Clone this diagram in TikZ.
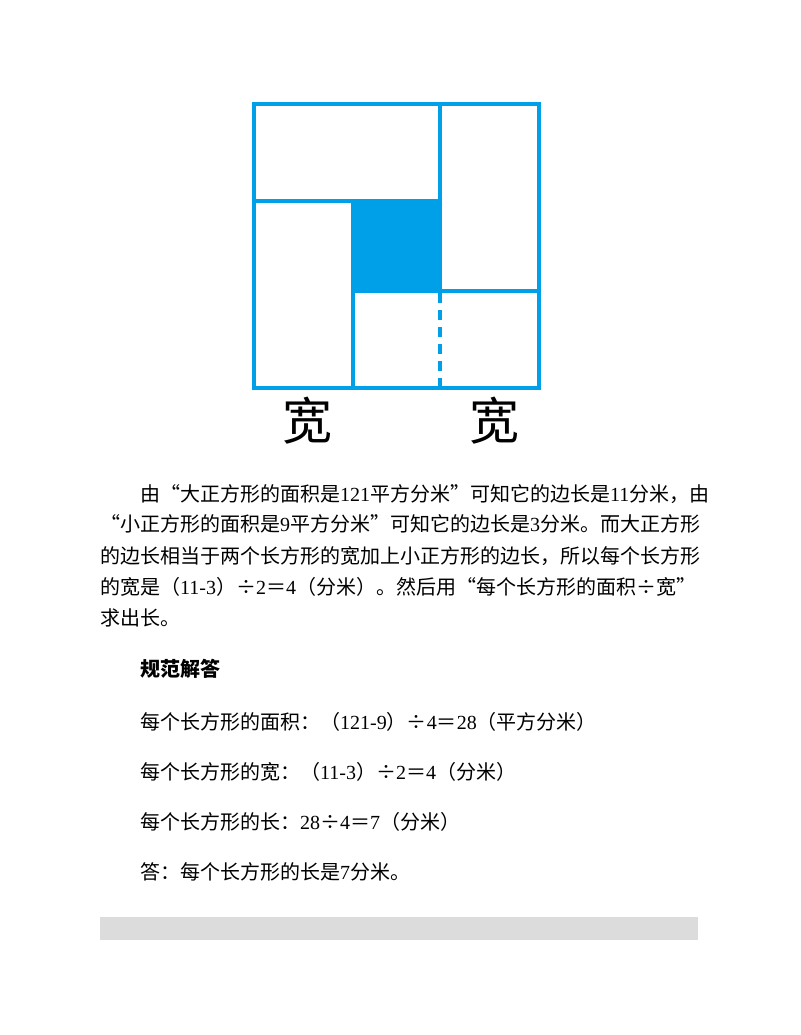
\documentclass[tikz,border=0pt]{standalone}
\usepackage{fontspec}
\setmainfont{Noto Sans CJK SC}
\newfontfamily\digitfont{Liberation Serif}
\usepackage{xcolor}
\usepackage{tikz}

\definecolor{figblue}{RGB}{0,160,233}
\definecolor{bargray}{RGB}{220,220,220}
\newcommand{\dg}[1]{{\digitfont #1}}

\begin{document}
\begin{tikzpicture}[x=1pt, y=-1pt,
  edge/.style={figblue, line width=4pt},
  textline/.style={anchor=west, inner sep=0pt, font=\fontsize{20pt}{24pt}\selectfont}]
\useasboundingbox (0,0) rectangle (800,1035);

% Figure
\fill[figblue] (353,201) rectangle (441,291);
\draw[edge] (254,104) rectangle (539,388);
\draw[edge] (254,201) -- (441,201);
\draw[edge] (440,104) -- (440,291) -- (539,291);
\draw[edge] (353,201) -- (353,388);
\draw[edge] (353,291) -- (441,291);
\draw[edge, dash pattern=on 10pt off 7pt] (440,293) -- (440,388);
\node[font=\fontsize{50pt}{50pt}\selectfont] (wideL) at (307,421) {宽};
\node[font=\fontsize{50pt}{50pt}\selectfont] (wideR) at (494,421) {宽};

% Explanation
\node[textline] (expl1) at (140,494) {由“大正方形的面积是\dg{121}平方分米”可知它的边长是\dg{11}分米，由};
\node[textline] (expl2) at (100,524) {“小正方形的面积是\dg{9}平方分米”可知它的边长是\dg{3}分米。而大正方形};
\node[textline] (expl3) at (100,556) {的边长相当于两个长方形的宽加上小正方形的边长，所以每个长方形};
\node[textline] (expl4) at (100,587) {的宽是（\dg{11-3}）÷\dg{2}＝\dg{4}（分米）。然后用“每个长方形的面积÷宽”};
\node[textline] (expl5) at (100,618) {求出长。};

% Solution
\node[textline] (head) at (140,669) {\textbf{规范解答}};
\node[textline] (sol1) at (140,722) {每个长方形的面积：（\dg{121-9}）÷\dg{4}＝\dg{28}（平方分米）};
\node[textline] (sol2) at (140,772) {每个长方形的宽：（\dg{11-3}）÷\dg{2}＝\dg{4}（分米）};
\node[textline] (sol3) at (140,822) {每个长方形的长：\dg{28}÷\dg{4}＝\dg{7}（分米）};
\node[textline] (sol4) at (140,872) {答：每个长方形的长是\dg{7}分米。};

% Bar
\fill[bargray] (100,917) rectangle (698,940);
\end{tikzpicture}
\end{document}
